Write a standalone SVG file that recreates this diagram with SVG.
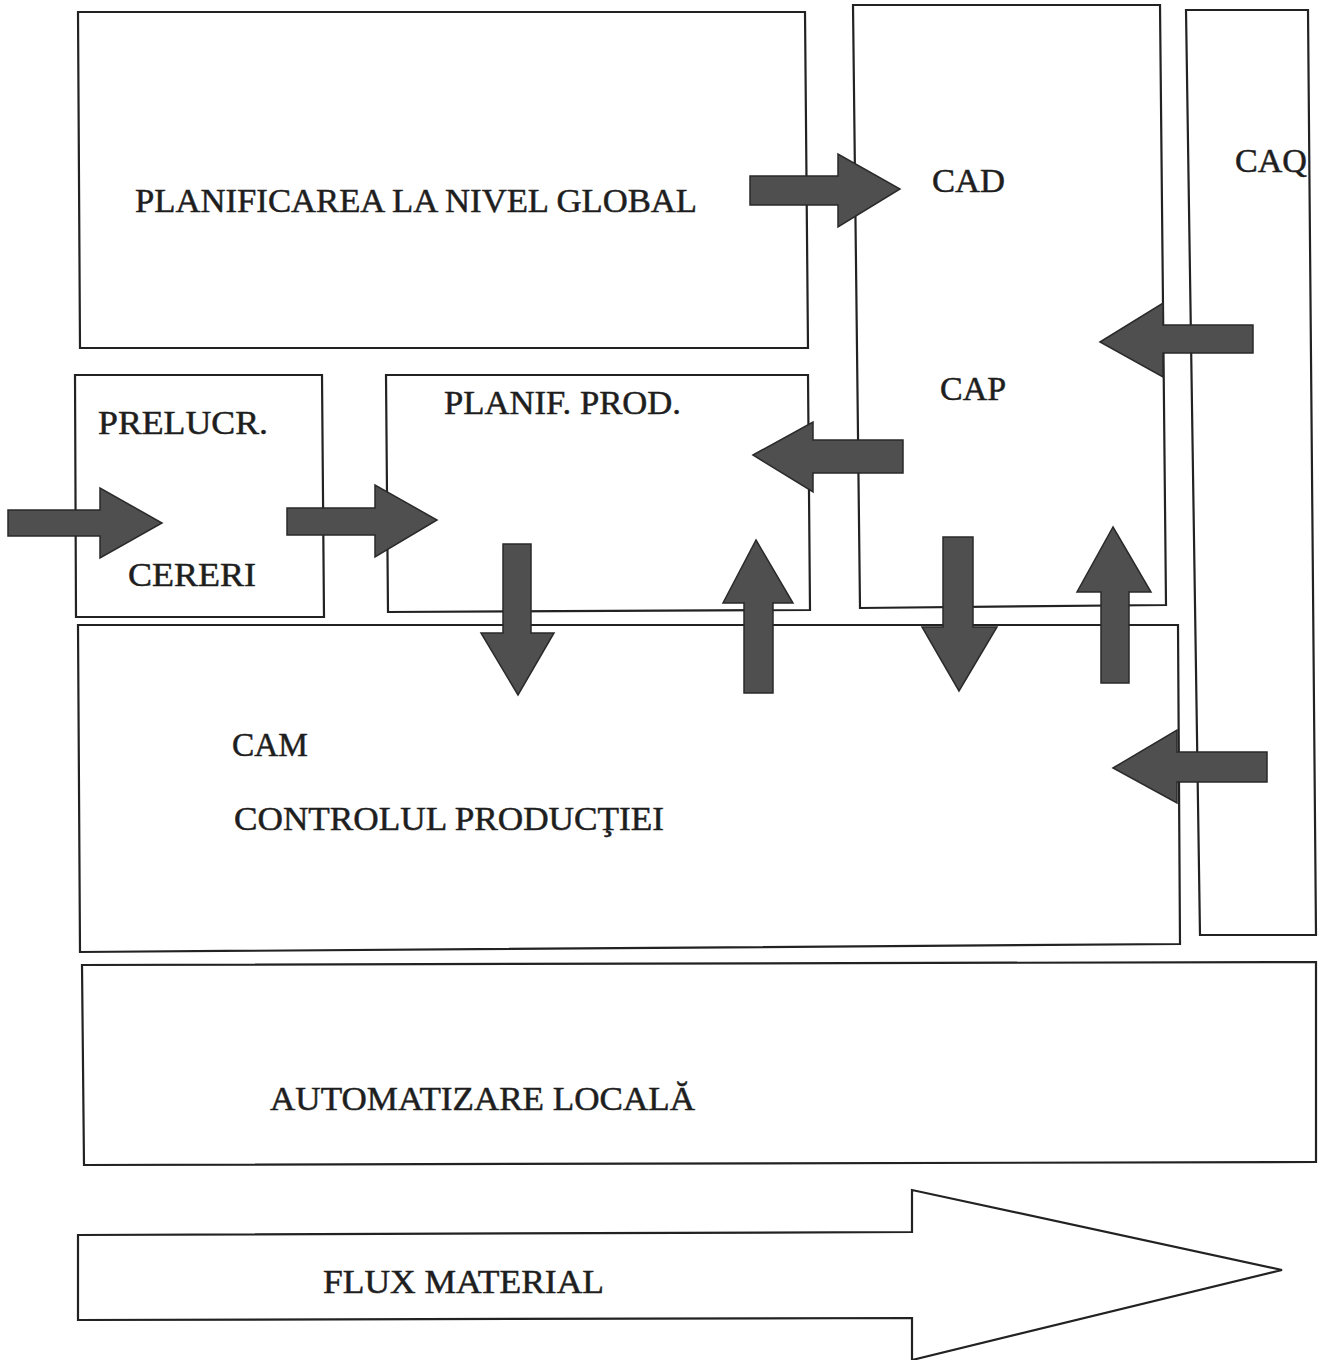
<svg xmlns="http://www.w3.org/2000/svg" width="1322" height="1360" viewBox="0 0 1322 1360">
<style>
.box{fill:none;stroke:#222;stroke-width:2.2}
.arr{fill:#4f4f4f;stroke:#2a2a2a;stroke-width:1.5;stroke-linejoin:miter}
.t{font-family:"Liberation Serif","Times New Roman",serif;font-size:33px;fill:#1e1e1e;stroke:#1e1e1e;stroke-width:0.5}
</style>
<rect width="1322" height="1360" fill="#ffffff"/>
<g id="planificarea">
<path class="box" d="M78,12 L805,12 L808,348 L80,348 Z"/>
<text class="t" x="135" y="212" textLength="562" lengthAdjust="spacingAndGlyphs">PLANIFICAREA LA NIVEL GLOBAL</text>
</g>
<g id="cad-cap">
<path class="box" d="M853,5 L1160,5 L1166,605 L860,608 Z"/>
<text class="t" x="932" y="192" textLength="73" lengthAdjust="spacingAndGlyphs">CAD</text>
<text class="t" x="940" y="400" textLength="66" lengthAdjust="spacingAndGlyphs">CAP</text>
</g>
<g id="caq">
<path class="box" d="M1186,10 L1308,10 L1316,935 L1200,935 Z"/>
<text class="t" x="1235" y="172" textLength="72" lengthAdjust="spacingAndGlyphs">CAQ</text>
</g>
<g id="prelucr">
<path class="box" d="M75,375 L322,375 L324,617 L76,617 Z"/>
<text class="t" x="98" y="434" textLength="170" lengthAdjust="spacingAndGlyphs">PRELUCR.</text>
<text class="t" x="128" y="586" textLength="128" lengthAdjust="spacingAndGlyphs">CERERI</text>
</g>
<g id="planif-prod">
<path class="box" d="M386,375 L808,375 L810,610 L388,612 Z"/>
<text class="t" x="444" y="414" textLength="237" lengthAdjust="spacingAndGlyphs">PLANIF. PROD.</text>
</g>
<g id="cam">
<path class="box" d="M78,625 L1178,625 L1180,944 L80,952 Z"/>
<text class="t" x="232" y="756" textLength="76" lengthAdjust="spacingAndGlyphs">CAM</text>
<text class="t" x="234" y="830" textLength="430" lengthAdjust="spacingAndGlyphs">CONTROLUL PRODUCŢIEI</text>
</g>
<g id="automatizare">
<path class="box" d="M82,965 L1316,962 L1316,1162 L84,1165 Z"/>
<text class="t" x="270" y="1110" textLength="425" lengthAdjust="spacingAndGlyphs">AUTOMATIZARE LOCALĂ</text>
</g>
<g id="flux-material">
<path class="box" d="M78,1235 L912,1232 L912,1190 L1282,1270 L912,1360 L912,1318 L78,1320 Z"/>
<text class="t" x="323" y="1293" textLength="281" lengthAdjust="spacingAndGlyphs">FLUX MATERIAL</text>
</g>
<g id="connectors">
<path class="arr" d="M750,176 L838,176 L838,154 L900,189 L838,227 L838,205 L750,205 Z"/>
<path class="arr" d="M8,510 L100,510 L100,488 L162,523 L100,558 L100,536 L8,536 Z"/>
<path class="arr" d="M287,508 L375,508 L375,485 L437,520 L375,557 L375,535 L287,535 Z"/>
<path class="arr" d="M503,544 L531,544 L531,633 L554,633 L518,695 L481,633 L503,633 Z"/>
<path class="arr" d="M756,540 L793,603 L773,603 L773,693 L744,693 L744,603 L723,603 Z"/>
<path class="arr" d="M943,537 L973,537 L973,627 L997,627 L959,691 L922,627 L943,627 Z"/>
<path class="arr" d="M1113,527 L1151,592 L1129,592 L1129,683 L1101,683 L1101,592 L1077,592 Z"/>
<path class="arr" d="M1100,342 L1163,303 L1163,325 L1253,325 L1253,353 L1163,353 L1163,377 Z"/>
<path class="arr" d="M1113,768 L1177,730 L1177,752 L1267,752 L1267,782 L1177,782 L1177,803 Z"/>
<path class="arr" d="M753,455 L813,422 L813,440 L903,440 L903,473 L813,473 L813,492 Z"/>
</g>
</svg>
